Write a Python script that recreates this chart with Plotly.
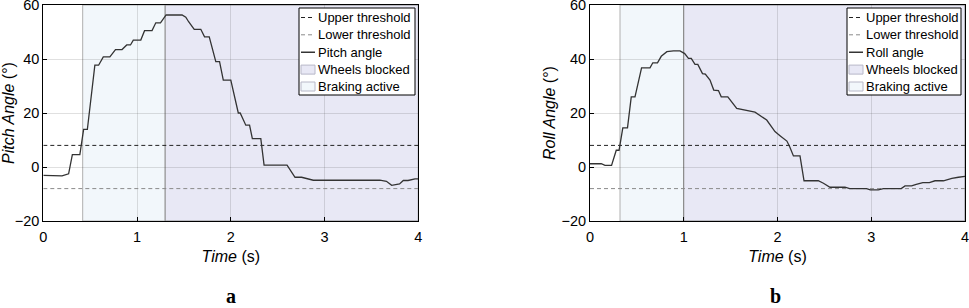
import plotly.graph_objects as go

# ---------------- data ----------------
pitch_t = [0, 0.2, 0.27, 0.31, 0.39, 0.43, 0.47, 0.55, 0.59, 0.64, 0.71, 0.77, 0.84, 0.89, 0.93,
           0.96, 1.04, 1.08, 1.16, 1.2, 1.25, 1.31, 1.48, 1.52, 1.55, 1.61, 1.68, 1.72, 1.77, 1.84,
           1.88, 1.92, 2.0, 2.08, 2.1, 2.16, 2.2, 2.23, 2.32, 2.355, 2.6, 2.685, 2.755, 2.81, 2.88,
           3.59, 3.66, 3.716, 3.80, 3.84, 3.89, 3.965, 4.0]
pitch_v = [-3.1, -3.3, -2.5, 4.6, 4.6, 13.9, 13.9, 37.7, 37.7, 40.8, 40.8, 43.5, 43.5, 45.2, 45.2,
           47, 47, 50.5, 50.5, 53.4, 53.4, 56.3, 56.3, 55.5, 53.8, 51, 51, 48.2, 48.2, 39,
           39, 32.2, 32.2, 20, 20, 15.5, 15.5, 10.5, 10.5, 0.7, 0.7, -3.8, -3.8, -4.4, -4.9,
           -4.9, -5.3, -6.8, -6.3, -5.0, -5.0, -4.4, -4.4]

roll_t = [0, 0.12, 0.16, 0.23, 0.28, 0.31, 0.35, 0.40, 0.44, 0.48, 0.55, 0.64, 0.67, 0.72, 0.76,
          0.82, 0.89, 0.96, 1.01, 1.05, 1.08, 1.12, 1.15, 1.2, 1.23, 1.28, 1.32, 1.37, 1.40, 1.47,
          1.565, 1.65, 1.76, 1.885, 1.973, 2.03, 2.10, 2.13, 2.17, 2.24, 2.283, 2.435, 2.49, 2.56, 2.72,
          2.77, 2.95, 2.99, 3.075, 3.13, 3.32, 3.36, 3.43, 3.48, 3.55, 3.62, 3.68, 3.77, 3.86, 3.93, 4.0]
roll_v = [1.2, 1.2, 0.6, 0.6, 6.2, 6.2, 14.5, 14.5, 26, 26, 36.7, 36.7, 38.6, 38.6, 41,
          42.7, 43, 43, 42, 40.2, 40.2, 38, 38, 34.6, 34.4, 32.2, 28.5, 28.3, 26, 26,
          21.7, 21, 20.3, 17.4, 13.1, 11.5, 9.6, 7.5, 4.1, 4.1, -5.1, -5.1, -6.0, -7.5, -7.5,
          -8.0, -8.0, -8.5, -8.5, -8.0, -8.0, -7.0, -7.0, -6.4, -5.8, -5.8, -5.1, -5.1, -4.2, -3.8, -3.5]

upper_threshold = 8
lower_threshold = -8
time_range = [0, 4]
pitch_braking = [0.42, 1.30]   # braking active start, wheels blocked start
roll_braking = [0.32, 1.00]

x_ticks = [0, 1, 2, 3, 4]
y_ticks = [-20, 0, 20, 40, 60]

panel_labels = ["a", "b"]
legend_labels_pitch = ["Upper threshold", "Lower threshold", "Pitch angle", "Wheels blocked", "Braking active"]
legend_labels_roll = ["Upper threshold", "Lower threshold", "Roll angle", "Wheels blocked", "Braking active"]

# ---------------- styling ----------------
W, H = 969, 308
FONT = "Liberation Sans, Arial, sans-serif"
C_BRAKE = "rgb(242,247,251)"
C_BLOCK = "rgb(232,232,245)"
C_LINE = "#333333"
C_UP = "#222222"
C_LO = "#8a8a8a"
GRID = "rgba(60,60,60,0.16)"

fig = go.Figure()

panels = [
    dict(t=pitch_t, v=pitch_v, br=pitch_braking, xa="x", ya="y", name="Pitch angle",
         ytitle="<i>Pitch Angle</i> (°)", xdom=[43.3 / W, 418.3 / W], labels=legend_labels_pitch,
         leg=(299, 415), lab_x=231),
    dict(t=roll_t, v=roll_v, br=roll_braking, xa="x2", ya="y2", name="Roll angle",
         ytitle="<i>Roll Angle</i> (°)", xdom=[590 / W, 965 / W], labels=legend_labels_roll,
         leg=(847, 961), lab_x=775),
]

ydom = [1 - 221 / H, 1 - 5 / H]
shapes = []
annotations = []

for i, p in enumerate(panels):
    xa, ya = p["xa"], p["ya"]
    # shaded regions (below grid)
    shapes.append(dict(type="rect", xref=xa, yref=ya + " domain", x0=p["br"][0], x1=p["br"][1], y0=0, y1=1,
                       fillcolor=C_BRAKE, line=dict(color="#b0b0b0", width=1), layer="below"))
    shapes.append(dict(type="rect", xref=xa, yref=ya + " domain", x0=p["br"][1], x1=time_range[1], y0=0, y1=1,
                       fillcolor=C_BLOCK, line=dict(color="#8c8c8c", width=1), layer="below"))
    # thresholds
    fig.add_trace(go.Scatter(x=time_range, y=[upper_threshold] * 2, mode="lines", xaxis=xa, yaxis=ya,
                             line=dict(color=C_UP, width=1, dash="4px,3px"), showlegend=False, hoverinfo="skip"))
    fig.add_trace(go.Scatter(x=time_range, y=[lower_threshold] * 2, mode="lines", xaxis=xa, yaxis=ya,
                             line=dict(color=C_LO, width=1, dash="4px,3px"), showlegend=False, hoverinfo="skip"))
    # signal
    fig.add_trace(go.Scatter(x=p["t"], y=p["v"], mode="lines", xaxis=xa, yaxis=ya, name=p["name"],
                             line=dict(color=C_LINE, width=1.3), showlegend=False))

    # manual legend box
    lx0, lx1 = p["leg"]
    ly0, ly1 = 8, 95
    px = lambda v: v / W
    py = lambda v: 1 - v / H
    shapes.append(dict(type="rect", xref="paper", yref="paper", x0=px(lx0), x1=px(lx1), y0=py(ly1), y1=py(ly0),
                       fillcolor="white", line=dict(color="black", width=1), layer="above"))
    rows = [17.5, 34.8, 52.2, 69.6, 86.5]
    sx0, sx1 = lx0 + 2, lx0 + 16
    for j, (lab, ry) in enumerate(zip(p["labels"], rows)):
        if j in (0, 1):
            col = C_UP if j == 0 else C_LO
            shapes.append(dict(type="line", xref="paper", yref="paper", x0=px(sx0), x1=px(sx1), y0=py(ry), y1=py(ry),
                               line=dict(color=col, width=1, dash="4px,3px"), layer="above"))
        elif j == 2:
            shapes.append(dict(type="line", xref="paper", yref="paper", x0=px(sx0), x1=px(sx1), y0=py(ry), y1=py(ry),
                               line=dict(color="black", width=1.2), layer="above"))
        else:
            col = C_BLOCK if j == 3 else C_BRAKE
            shapes.append(dict(type="rect", xref="paper", yref="paper", x0=px(sx0), x1=px(sx1),
                               y0=py(ry + 4.5), y1=py(ry - 4.5),
                               fillcolor=col, line=dict(color="#b8b8c8", width=1), layer="above"))
        annotations.append(dict(text=lab, xref="paper", yref="paper", x=px(sx1 + 1), y=py(ry),
                                xanchor="left", yanchor="middle", showarrow=False,
                                font=dict(family=FONT, size=13, color="black")))
    annotations.append(dict(text="<b>%s</b>" % panel_labels[i], xref="paper", yref="paper",
                            x=px(p["lab_x"]), y=py(296), xanchor="center", yanchor="middle", showarrow=False,
                            font=dict(family="Liberation Serif, DejaVu Serif, serif", size=20, color="black")))

    axis_common = dict(showline=True, mirror=True, linecolor="black", linewidth=1, ticks="inside", ticklen=4,
                       tickcolor="black", showgrid=True, gridcolor=GRID, gridwidth=1, zeroline=False,
                       automargin=False, ticklabeloverflow="allow",
                       tickfont=dict(family=FONT, size=14.5, color="black"))
    xkey = "xaxis" if i == 0 else "xaxis2"
    ykey = "yaxis" if i == 0 else "yaxis2"
    fig.layout[xkey] = dict(axis_common, domain=p["xdom"], range=time_range, tickvals=x_ticks, anchor=ya,
                            ticklabelstandoff=3,
                            title=dict(text="<i>Time</i> (s)", font=dict(family=FONT, size=16, color="black"),
                                       standoff=6))
    fig.layout[ykey] = dict(axis_common, domain=ydom, range=[-20, 60], tickvals=y_ticks, anchor=xa,
                            title=dict(text=p["ytitle"], font=dict(family=FONT, size=16, color="black"),
                                       standoff=1))

fig.update_layout(width=W, height=H, margin=dict(l=0, r=0, t=0, b=0), paper_bgcolor="white",
                  plot_bgcolor="white", shapes=shapes, annotations=annotations, showlegend=False)

fig.write_html("out.html", config={"displayModeBar": False},
               post_script="document.body.style.margin='0';document.body.style.overflow='hidden';")
